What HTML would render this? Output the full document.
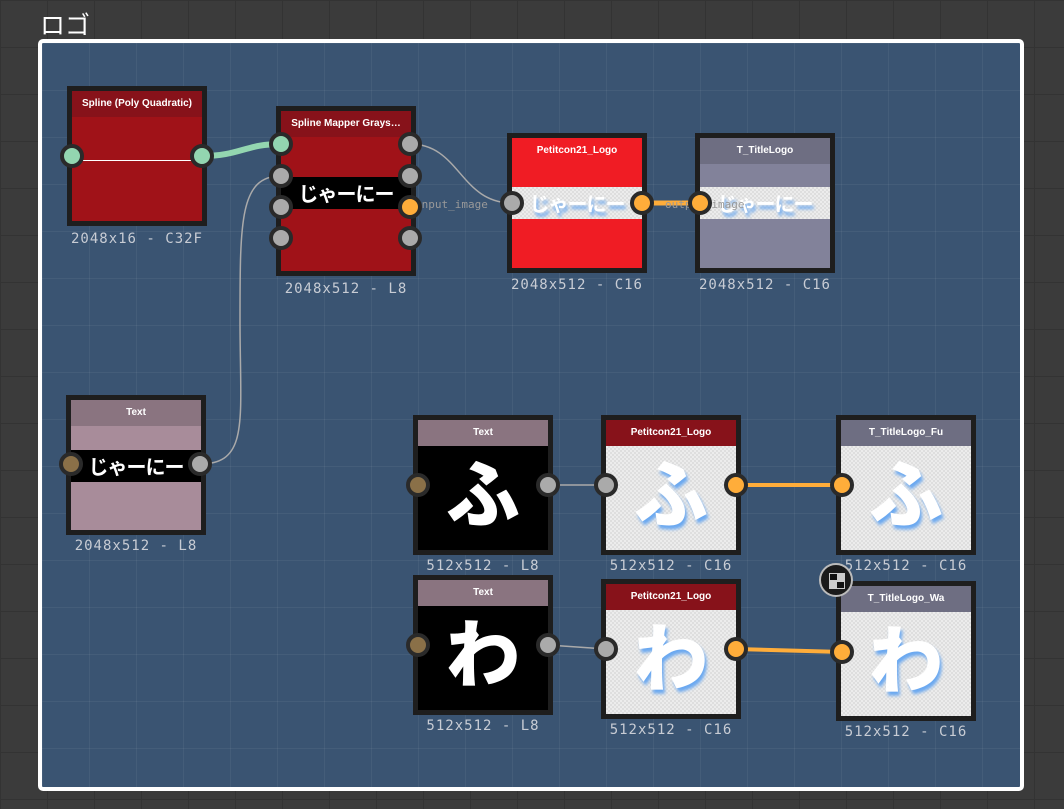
<!DOCTYPE html>
<html><head><meta charset="utf-8">
<style>
*{margin:0;padding:0;box-sizing:border-box}
body{width:1064px;height:809px;overflow:hidden;position:relative;background:#3b3b3b;
background-image:linear-gradient(#333 1px,transparent 1px),linear-gradient(90deg,#333 1px,transparent 1px);background-size:47px 47px;
font-family:"Liberation Sans","Noto Sans CJK JP",sans-serif}
.frame{position:absolute;left:38px;top:39px;width:986px;height:752px;border:4px solid #fff;border-radius:5px;background:#3a5472;
background-image:linear-gradient(rgba(255,255,255,.05) 1px,transparent 1px),linear-gradient(90deg,rgba(255,255,255,.05) 1px,transparent 1px);background-size:47px 47px}
.title{position:absolute;left:40px;top:6px;color:#fff;font-size:25px}
.n{position:absolute;width:140px;height:140px;border:5px solid #1e1e1e;overflow:hidden}
.h{position:absolute;left:0;top:0;right:0;height:26px;color:#fff;font-weight:bold;font-size:10px;text-align:center;line-height:26px;white-space:nowrap}
.band{position:absolute;left:0;right:0;background:#000;color:#fff;font-weight:bold;text-align:center;font-family:"Noto Sans CJK JP",sans-serif;letter-spacing:-1px}
.chk{background:#e6e6e6;background-image:repeating-conic-gradient(#ececec 0 25%,#dedede 0 50%);background-size:4px 4px}
.lbl{position:absolute;width:160px;text-align:center;color:#c8ccd4;font-size:14px;letter-spacing:1px;font-family:"DejaVu Sans Mono","Liberation Mono",monospace}
.p{position:absolute;width:24px;height:24px;border-radius:50%;border:4px solid #2a2a2a;background:#aaa;margin:-12px 0 0 -12px}
.g{background:#93d6b0}.o{background:#ffad3a}
.big{position:absolute;left:0;right:0;top:18px;bottom:0;text-align:center;font-family:"Noto Sans CJK JP",sans-serif;font-weight:900;font-size:74px;line-height:104px;color:#fff}
.blue{text-shadow:2px 4px 3px #6aa8f0}
.plab{position:absolute;color:#999;font-size:11px;font-family:"DejaVu Sans Mono",monospace}
</style></head><body>
<div class="title">ロゴ</div>
<div class="frame"></div>
<svg style="position:absolute;left:0;top:0" width="1064" height="809">
<path d="M202 156 C240 156 245 144 281 144" stroke="#93d6b0" stroke-width="6" fill="none"/>
<path d="M410 144 C460 144 460 203 512 203" stroke="#aaa" stroke-width="1.5" fill="none"/>
<path d="M200 464 C250 464 240 420 240 320 C240 220 240 176 281 176" stroke="#aaa" stroke-width="1.5" fill="none"/>
<path d="M642 203 L700 203" stroke="#ffad3a" stroke-width="5"/>
<path d="M548 485 L606 485" stroke="#aaa" stroke-width="1.5"/>
<path d="M736 485 L842 485" stroke="#ffad3a" stroke-width="4"/>
<path d="M548 645 L606 649" stroke="#aaa" stroke-width="1.5"/>
<path d="M736 649 L842 652" stroke="#ffad3a" stroke-width="4"/>
</svg>

<div class="n" style="left:67px;top:86px;background:#a01218"><div class="h" style="background:#87121a">Spline (Poly Quadratic)</div>
<div style="position:absolute;left:0;right:0;top:69px;height:1px;background:#fff"></div></div>
<div class="lbl" style="left:57px;top:231px">2048x16 - C32F</div>
<div class="n" style="left:276px;top:106px;height:170px;background:#a01218"><div class="h" style="background:#87121a">Spline Mapper Grays…</div>
<div class="band" style="top:66px;height:32px;font-size:20px;line-height:32px">じゃーにー</div></div>
<div class="lbl" style="left:266px;top:281px">2048x512 - L8</div>
<div class="n" style="left:507px;top:133px;background:#f01c24"><div class="h" style="background:#f01c24">Petitcon21_Logo</div>
<div class="band chk blue" style="top:49px;height:32px;font-size:20px;line-height:32px;color:#fff">じゃーにー</div></div>
<div class="lbl" style="left:497px;top:277px">2048x512 - C16</div>
<div class="n" style="left:695px;top:133px;background:#82829a"><div class="h" style="background:#6e6e82">T_TitleLogo</div>
<div class="band chk blue" style="top:49px;height:32px;font-size:20px;line-height:32px;color:#fff">じゃーにー</div></div>
<div class="lbl" style="left:685px;top:277px">2048x512 - C16</div>
<div class="plab" style="left:415px;top:198px">input_image</div>
<div class="plab" style="left:665px;top:198px">output_image</div>
<div class="n" style="left:66px;top:395px;background:#a88c9a"><div class="h" style="background:#8a7480">Text</div>
<div class="band" style="top:50px;height:32px;font-size:20px;line-height:32px">じゃーにー</div></div>
<div class="lbl" style="left:56px;top:538px">2048x512 - L8</div>

<div class="n" style="left:413px;top:415px;background:#000"><div class="h" style="background:#8a7480">Text</div><div class="big">ふ</div></div>
<div class="lbl" style="left:403px;top:558px">512x512 - L8</div>
<div class="n chk" style="left:601px;top:415px"><div class="h" style="background:#87121a">Petitcon21_Logo</div><div class="big blue">ふ</div></div>
<div class="lbl" style="left:591px;top:558px">512x512 - C16</div>
<div class="n chk" style="left:836px;top:415px"><div class="h" style="background:#6e6e82">T_TitleLogo_Fu</div><div class="big blue">ふ</div></div>
<div class="lbl" style="left:826px;top:558px">512x512 - C16</div>
<div class="n" style="left:413px;top:575px;background:#000"><div class="h" style="background:#8a7480">Text</div><div class="big">わ</div></div>
<div class="lbl" style="left:403px;top:718px">512x512 - L8</div>
<div class="n chk" style="left:601px;top:579px"><div class="h" style="background:#87121a">Petitcon21_Logo</div><div class="big blue">わ</div></div>
<div class="lbl" style="left:591px;top:722px">512x512 - C16</div>
<div class="n chk" style="left:836px;top:581px"><div class="h" style="background:#6e6e82">T_TitleLogo_Wa</div><div class="big blue">わ</div></div>
<div class="lbl" style="left:826px;top:724px">512x512 - C16</div>
<div style="position:absolute;left:819px;top:563px;width:34px;height:34px;border-radius:50%;background:#1a1a1a;border:2px solid #bbb">
<div style="position:absolute;left:8px;top:8px;width:16px;height:8px;background:linear-gradient(90deg,#111 50%,#ccc 50%);border:1px solid #ccc"></div>
<div style="position:absolute;left:8px;top:16px;width:16px;height:8px;background:linear-gradient(90deg,#ccc 50%,#111 50%);border:1px solid #ccc"></div></div>

<div class="p g" style="left:72px;top:156px"></div>
<div class="p g" style="left:202px;top:156px"></div>
<div class="p g" style="left:281px;top:144px"></div>
<div class="p" style="left:281px;top:176px"></div>
<div class="p" style="left:281px;top:207px"></div>
<div class="p" style="left:281px;top:238px"></div>
<div class="p" style="left:410px;top:144px"></div>
<div class="p" style="left:410px;top:176px"></div>
<div class="p o" style="left:410px;top:207px"></div>
<div class="p" style="left:410px;top:238px"></div>
<div class="p" style="left:512px;top:203px"></div>
<div class="p o" style="left:642px;top:203px"></div>
<div class="p o" style="left:700px;top:203px"></div>
<div class="p" style="left:71px;top:464px;background:#8a7048"></div>
<div class="p" style="left:200px;top:464px"></div>
<div class="p" style="left:418px;top:485px;background:#8a7048"></div>
<div class="p" style="left:548px;top:485px"></div>
<div class="p" style="left:606px;top:485px"></div>
<div class="p o" style="left:736px;top:485px"></div>
<div class="p o" style="left:842px;top:485px"></div>
<div class="p" style="left:418px;top:645px;background:#8a7048"></div>
<div class="p" style="left:548px;top:645px"></div>
<div class="p" style="left:606px;top:649px"></div>
<div class="p o" style="left:736px;top:649px"></div>
<div class="p o" style="left:842px;top:652px"></div>
</body></html>
